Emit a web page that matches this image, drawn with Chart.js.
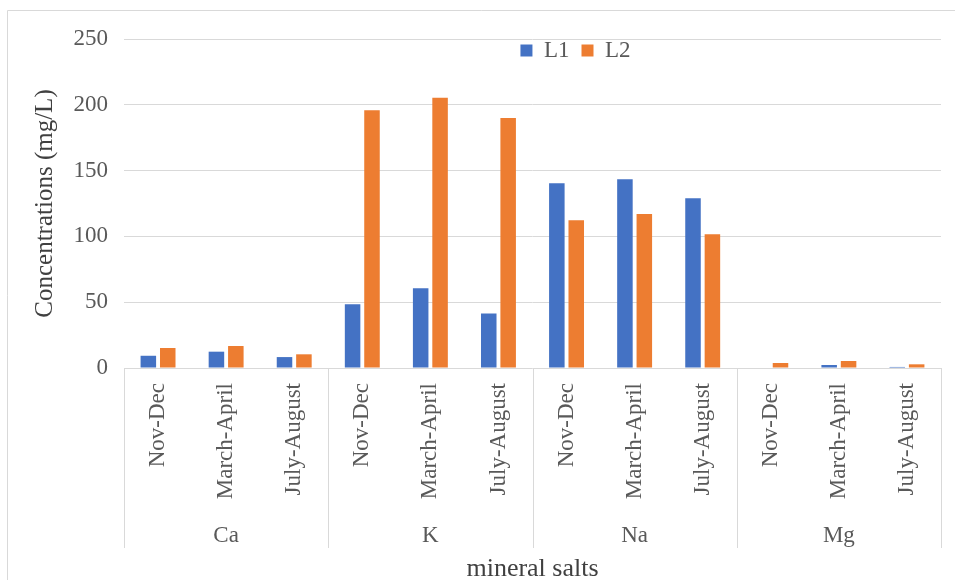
<!DOCTYPE html>
<html>
<head>
<meta charset="utf-8">
<script src="https://cdn.jsdelivr.net/npm/chart.js@4"></script>
<style>
  html, body { margin: 0; padding: 0; background: #fff; }
  #wrap { width: 955px; height: 580px; }
</style>
</head>
<body>
<div id="wrap"><canvas id="mineralChart"></canvas></div>
<script>
// 기간 / 광물 / 값
const periods = ['Nov-Dec', 'March-April', 'July-August'];
const minerals = ['Ca', 'K', 'Na', 'Mg'];
const l1Values = [9.3, 12.4, 8.3, 48.5, 60.6, 41.4, 140.4, 143.5, 129, 0, 2.3, 0.8];
const l2Values = [15.2, 16.7, 10.4, 195.9, 205.3, 190, 112.3, 117.1, 101.7, 3.8, 5.3, 2.8];
const yTicks = [0, 50, 100, 150, 200, 250];

const labels = [];
minerals.forEach(m => periods.forEach(p => labels.push(p)));

const FONT = '"Liberation Serif", "Times New Roman", serif';
const GRID = '#d9d9d9';
const LEGEND_PAD = 12;

// 광물 그룹 라벨과 구분선
const groupAxis = {
    id: 'groupAxis',
    beforeLayout(chart) {
        // 범례가 그래프 영역 위에 겹치도록 높이를 0으로
        const lg = chart.legend;
        if (lg && !lg._flat) {
            const fit = lg.fit;
            lg.fit = function() {
                fit.call(this);
                this.height = 0;
            };
            lg._flat = true;
        }
    },
    afterLayout(chart) {
        const lg = chart.legend;
        const shift = (chart.chartArea.left + chart.chartArea.right) / 2 + 43 - (lg.left + lg.right) / 2;
        lg.left += shift;
        lg.right += shift;
        lg.top = chart.chartArea.top - LEGEND_PAD;
        lg.height = 50;
        lg.bottom = lg.top + 50;
    },
    afterDraw(chart) {
        const ctx = chart.ctx;
        const x = chart.scales.x;
        const base = chart.chartArea.bottom;
        const n = periods.length;
        ctx.save();
        ctx.strokeStyle = GRID;
        ctx.lineWidth = 1;
        const edges = [];
        for (let g = 0; g <= minerals.length; g++) {
            let px;
            if (g === 0) px = x.left;
            else if (g === minerals.length) px = x.right;
            else px = (x.getPixelForValue(g * n - 1) + x.getPixelForValue(g * n)) / 2;
            edges.push(px);
            ctx.beginPath();
            ctx.moveTo(Math.round(px) + 0.5, base);
            ctx.lineTo(Math.round(px) + 0.5, base + 180);
            ctx.stroke();
        }
        ctx.fillStyle = '#595959';
        ctx.font = '23px ' + FONT;
        ctx.textAlign = 'center';
        ctx.textBaseline = 'middle';
        minerals.forEach((m, i) => {
            ctx.fillText(m, (edges[i] + edges[i + 1]) / 2, base + 168);
        });
        // 차트 테두리
        ctx.beginPath();
        ctx.moveTo(7.5, 580);
        ctx.lineTo(7.5, 10.5);
        ctx.lineTo(955, 10.5);
        ctx.stroke();
        ctx.restore();
    }
};

new Chart(document.getElementById('mineralChart').getContext('2d'), {
    type: 'bar',
    data: {
        labels: labels,
        datasets: [{
            label: 'L1',
            data: l1Values,
            backgroundColor: '#4472C4',
            borderWidth: 0
        }, {
            label: 'L2',
            data: l2Values,
            backgroundColor: '#ED7D31',
            borderWidth: 0
        }]
    },
    options: {
        responsive: true,
        maintainAspectRatio: false,
        animation: false,
        categoryPercentage: 0.57,
        barPercentage: 0.8,
        layout: {
            padding: { top: 39, left: 26, right: 14, bottom: 0 }
        },
        plugins: {
            legend: {
                position: 'top',
                align: 'center',
                labels: {
                    boxWidth: 12,
                    boxHeight: 12,
                    padding: LEGEND_PAD,
                    color: '#595959',
                    font: { family: FONT, size: 23 }
                }
            },
            tooltip: { enabled: false }
        },
        scales: {
            x: {
                grid: { display: false, drawTicks: false },
                border: { display: false },
                ticks: {
                    minRotation: 90,
                    maxRotation: 90,
                    autoSkip: false,
                    padding: 15,
                    color: '#595959',
                    font: { family: FONT, size: 23 }
                },
                title: {
                    display: true,
                    text: 'mineral salts',
                    color: '#404040',
                    padding: { top: -5, bottom: -5 },
                    font: { family: FONT, size: 26 }
                },
                afterFit: function(scale) {
                    scale.height = 212;
                }
            },
            y: {
                min: 0,
                max: 250,
                afterBuildTicks: function(scale) {
                    scale.ticks = yTicks.map(v => ({ value: v }));
                },
                grid: { color: GRID, lineWidth: 1, drawTicks: false },
                border: { display: false },
                ticks: {
                    padding: 16,
                    color: '#595959',
                    font: { family: FONT, size: 23 }
                },
                title: {
                    display: true,
                    text: 'Concentrations (mg/L)',
                    color: '#404040',
                    font: { family: FONT, size: 25 }
                },
                afterFit: function(scale) {
                    scale.width = 98;
                }
            }
        }
    },
    plugins: [groupAxis]
});
</script>
</body>
</html>
